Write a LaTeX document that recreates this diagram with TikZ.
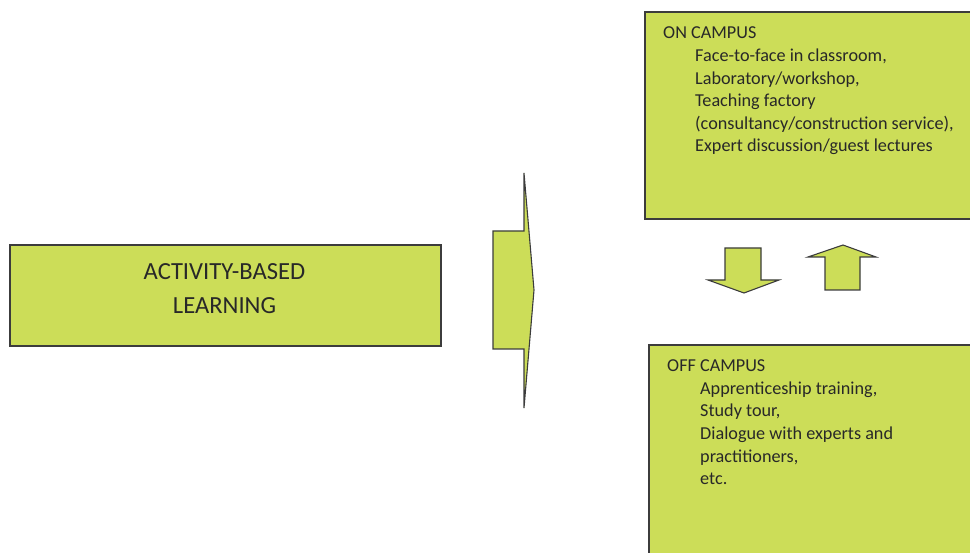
\documentclass[tikz,border=0pt]{standalone}
\usepackage{fontspec}
\setmainfont{Carlito}
\definecolor{leaf}{RGB}{204,221,88}
\definecolor{edge}{RGB}{60,60,60}
\definecolor{ink}{RGB}{40,40,40}
\begin{document}
\begin{tikzpicture}[x=1pt,y=-1pt,
  panel/.style={draw=edge,fill=leaf,line width=1.3pt,inner sep=0pt},
  blockarrow/.style={draw=edge,fill=leaf,line width=1.1pt,line join=miter},
  bodytext/.style={text=ink,inner sep=0pt,anchor=base west,
    font=\fontsize{18.2}{22}\selectfont},
  titletext/.style={text=ink,inner sep=0pt,anchor=base,
    font=\fontsize{24.6}{30}\selectfont}]
\useasboundingbox (0,0) rectangle (970,553);
\clip (0,0) rectangle (970,553);

% main box on the left
\node[panel,minimum width=431pt,minimum height=101pt] (abl) at (225.5,295.5) {};
\node[titletext] (abl1) at (224.5,279.5) {ACTIVITY-BASED};
\node[titletext] (abl2) at (224.5,313.5) {LEARNING};

% on-campus box
\draw[panel] (645,12) rectangle (990,219);
\node[bodytext] (ontitle) at (663,39) {ON CAMPUS};
\foreach \t [count=\i] in {{Face-to-face in classroom,},{Laboratory/workshop,},
    {Teaching factory},{(consultancy/construction service),},
    {Expert discussion/guest lectures}}
  \node[bodytext] (on\i) at (695,{39+22.6*\i}) {\t};

% off-campus box
\draw[panel] (649,345) rectangle (990,580);
\node[bodytext] (offtitle) at (667,372) {OFF CAMPUS};
\foreach \t [count=\i] in {{Apprenticeship training,},{Study tour,},
    {Dialogue with experts and},{practitioners,},{etc.}}
  \node[bodytext] (off\i) at (700,{372+22.5*\i}) {\t};

% wide arrow pointing right
\draw[blockarrow] (493,231) -- (524,231) -- (524,173) -- (534,290) -- (524,408)
  -- (524,349) -- (493,349) -- cycle;

% down and up arrows between the two campus boxes
\draw[blockarrow] (725,248) -- (761,248) -- (761,280) -- (779,280) -- (744,293)
  -- (708,280) -- (725,280) -- cycle;
\draw[blockarrow] (825,290) -- (860,290) -- (860,257) -- (876,257) -- (843,245)
  -- (808,257) -- (825,257) -- cycle;
\end{tikzpicture}
\end{document}
